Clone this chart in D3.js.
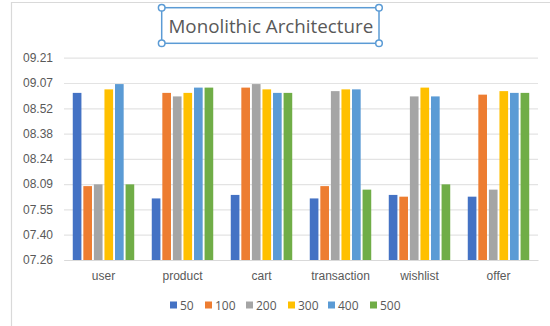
<!DOCTYPE html>
<html>
<head>
<meta charset="utf-8">
<script src="https://cdn.jsdelivr.net/npm/d3@7"></script>
<style>
  html, body { margin: 0; padding: 0; background: #fff; }
  svg { display: block; font-family: "Open Sans", "Liberation Sans", sans-serif; }
</style>
</head>
<body>
<svg id="chart" width="550" height="326"></svg>
<script>
// Response times per service, stored in seconds (shown on the axis as mm.ss)
const categories = ["user", "product", "cart", "transaction", "wishlist", "offer"];
const seriesNames = ["50", "100", "200", "300", "400", "500"];
const s50  = [541, 481, 483, 481, 483, 482];
const s100 = [488, 541, 544, 488, 482, 540];
const s200 = [489, 539, 546, 542, 539, 486];
const s300 = [543, 541, 543, 543, 544, 542];
const s400 = [546, 544, 541, 543, 539, 541];
const s500 = [489, 544, 541, 486, 489, 541];
const seriesValues = [s50, s100, s200, s300, s400, s500];
const seriesColors = ["#4472C4", "#ED7D31", "#A5A5A5", "#FFC000", "#5B9BD5", "#70AD47"];

// Axis bounds (seconds) and the labels printed at its nine evenly spaced ticks
const yMin = 446, yMax = 561;
const tickLabels = ["07.26", "07.40", "07.55", "08.09", "08.24", "08.38", "08.52", "09.07", "09.21"];

const svg = d3.select("#chart");
const plot = { left: 64, right: 538, top: 57.7, bottom: 260 };

// chart frame
svg.append("path")
  .attr("d", `M11.5,326 V2.5 H550`)
  .attr("fill", "none")
  .attr("stroke", "#d9d9d9")
  .attr("stroke-width", 1.2);

const y = d3.scaleLinear().domain([yMin, yMax]).range([plot.bottom, plot.top]);
const tickVals = d3.range(tickLabels.length).map(i => yMin + i * (yMax - yMin) / (tickLabels.length - 1));

const x = d3.scaleBand().domain(categories).range([plot.left, plot.right]).padding(0);
const groupFrac = 0.778;
const gOff = x.bandwidth() * (1 - groupFrac) / 2;
const xs = d3.scaleBand().domain(seriesNames)
  .range([gOff, gOff + x.bandwidth() * groupFrac])
  .paddingInner(0.18).paddingOuter(0);

// horizontal gridlines + y labels
const yAxis = d3.axisLeft(y)
  .tickValues(tickVals)
  .tickSize(-(plot.right - plot.left))
  .tickPadding(11)
  .tickFormat((d, i) => tickLabels[i]);

const gy = svg.append("g")
  .attr("transform", `translate(${plot.left},0)`)
  .call(yAxis);
gy.select(".domain").remove();
gy.selectAll(".tick line").attr("stroke", "#e3e3e3").attr("stroke-width", 1.2);
gy.selectAll(".tick text")
  .attr("fill", "#595959")
  .attr("font-size", 12);

// bars
const groups = svg.append("g").selectAll("g")
  .data(categories)
  .join("g")
  .attr("transform", d => `translate(${x(d)},0)`);

groups.selectAll("rect")
  .data((c, ci) => seriesNames.map((s, si) => ({ s, si, v: seriesValues[si][ci] })))
  .join("rect")
  .attr("x", d => xs(d.s))
  .attr("width", xs.bandwidth())
  .attr("y", d => y(d.v))
  .attr("height", d => y(yMin) - y(d.v))
  .attr("fill", d => seriesColors[d.si]);

// category axis
const xAxis = d3.axisBottom(x).tickSize(0).tickPadding(11);
const gx = svg.append("g")
  .attr("transform", `translate(0,${plot.bottom})`)
  .call(xAxis);
gx.select(".domain").attr("stroke", "#d9d9d9").attr("stroke-width", 1.2);
gx.selectAll(".tick text").attr("fill", "#595959").attr("font-size", 12);

// legend
const legendX = [170, 205, 246, 288, 328, 370];
const legend = svg.append("g").selectAll("g")
  .data(seriesNames)
  .join("g")
  .attr("transform", (d, i) => `translate(${legendX[i]},305)`);
legend.append("rect")
  .attr("x", 0).attr("y", -3.5).attr("width", 7).attr("height", 7)
  .attr("fill", (d, i) => seriesColors[i]);
legend.append("text")
  .attr("x", 10).attr("y", 4.5)
  .attr("fill", "#595959")
  .attr("font-size", 12)
  .text(d => d);

// title with its selection frame
const title = { x0: 161.7, x1: 379, y0: 7.7, y1: 43.3 };
svg.append("text")
  .attr("x", (title.x0 + title.x1) / 2 + 0.5)
  .attr("y", 32.5)
  .attr("text-anchor", "middle")
  .attr("fill", "#595959")
  .attr("font-size", 18.8)
  .text("Monolithic Architecture");
svg.append("rect")
  .attr("x", title.x0).attr("y", title.y0)
  .attr("width", title.x1 - title.x0).attr("height", title.y1 - title.y0)
  .attr("fill", "none")
  .attr("stroke", "#5B9BD5")
  .attr("stroke-width", 1.5);
const corners = [[title.x0, title.y0], [title.x1, title.y0], [title.x0, title.y1], [title.x1, title.y1]];
svg.append("g").selectAll("circle")
  .data(corners)
  .join("circle")
  .attr("cx", d => d[0]).attr("cy", d => d[1]).attr("r", 3.3)
  .attr("fill", "#fff")
  .attr("stroke", "#5B9BD5")
  .attr("stroke-width", 1.5);
</script>
</body>
</html>
